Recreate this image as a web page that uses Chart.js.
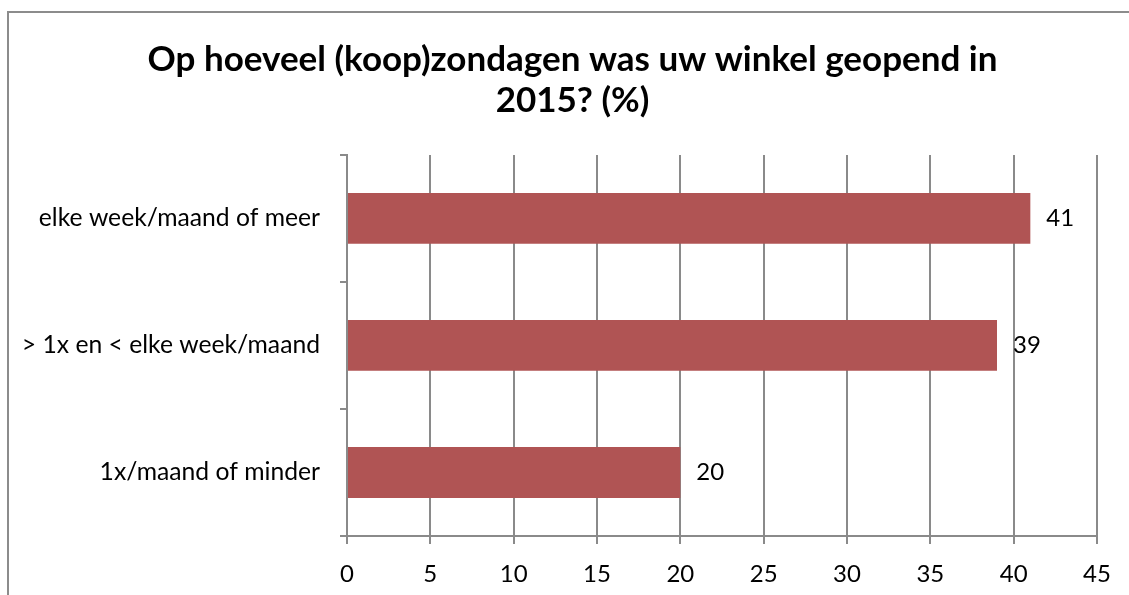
<!DOCTYPE html>
<html>
<head>
<meta charset="utf-8">
<script src="https://cdn.jsdelivr.net/npm/chart.js@4"></script>
<style>
  html, body { margin: 0; padding: 0; background: #fff; }
  .frame {
    position: absolute; left: 7px; top: 11px; width: 1200px; height: 700px;
    border-left: 2px solid #8c8c8c; border-top: 2px solid #8c8c8c;
  }
  .wrap { position: absolute; left: 0; top: 0; width: 1129px; height: 595px; }
</style>
</head>
<body>
<div class="frame"></div>
<div class="wrap"><canvas id="chart"></canvas></div>
<script>
const categories = ['elke week/maand of meer', '> 1x en < elke week/maand', '1x/maand of minder'];
const values = [41, 39, 20];
const titleLines = ['Op hoeveel (koop)zondagen was uw winkel geopend in', '2015? (%)'];
const xMin = 0, xMax = 45, xStep = 5;

const FONT = 'Lato, "Liberation Sans", sans-serif';
const GRID = '#8a8a8a';

// value labels to the right of each bar
const valueLabels = {
  id: 'valueLabels',
  afterDatasetsDraw(chart) {
    const ctx = chart.ctx;
    const meta = chart.getDatasetMeta(0);
    ctx.save();
    ctx.font = '24px ' + FONT;
    ctx.fillStyle = '#000';
    ctx.textAlign = 'left';
    ctx.textBaseline = 'middle';
    meta.data.forEach((bar, i) => {
      ctx.fillText(String(values[i]), bar.x + 16, bar.y);
    });
    ctx.restore();
  }
};

// title sits centred over the whole frame, a bit right of the layout box
const shiftTitle = {
  id: 'shiftTitle',
  afterLayout(chart) {
    if (chart.titleBlock) chart.titleBlock.left += 48;
  }
};

new Chart(document.getElementById('chart').getContext('2d'), {
  type: 'bar',
  data: {
    labels: categories,
    datasets: [{
      data: values,
      backgroundColor: '#b05454',
      borderWidth: 0,
      categoryPercentage: 1,
      barPercentage: 0.4
    }]
  },
  options: {
    indexAxis: 'y',
    responsive: true,
    maintainAspectRatio: false,
    animation: false,
    layout: { padding: { left: 0, right: 32, top: 0, bottom: 0 } },
    plugins: {
      legend: { display: false },
      tooltip: { enabled: false },
      title: {
        display: true,
        text: titleLines,
        color: '#000',
        font: { family: FONT, size: 35, weight: 'bold', lineHeight: 1.17 },
        padding: { top: 39, bottom: 34 }
      }
    },
    scales: {
      x: {
        min: xMin,
        max: xMax,
        ticks: { stepSize: xStep, color: '#000', font: { family: FONT, size: 24 }, padding: 16 },
        grid: { color: GRID, lineWidth: 2, tickLength: 8 },
        border: { color: GRID, width: 2 },
        afterFit(scale) { scale.height = 59; }
      },
      y: {
        ticks: { color: '#000', font: { family: FONT, size: 24.7 }, padding: 20 },
        grid: { drawOnChartArea: false, color: GRID, lineWidth: 2, tickLength: 7 },
        border: { color: GRID, width: 2 },
        afterFit(scale) { scale.width = 347; }
      }
    }
  },
  plugins: [valueLabels, shiftTitle]
});
</script>
</body>
</html>
